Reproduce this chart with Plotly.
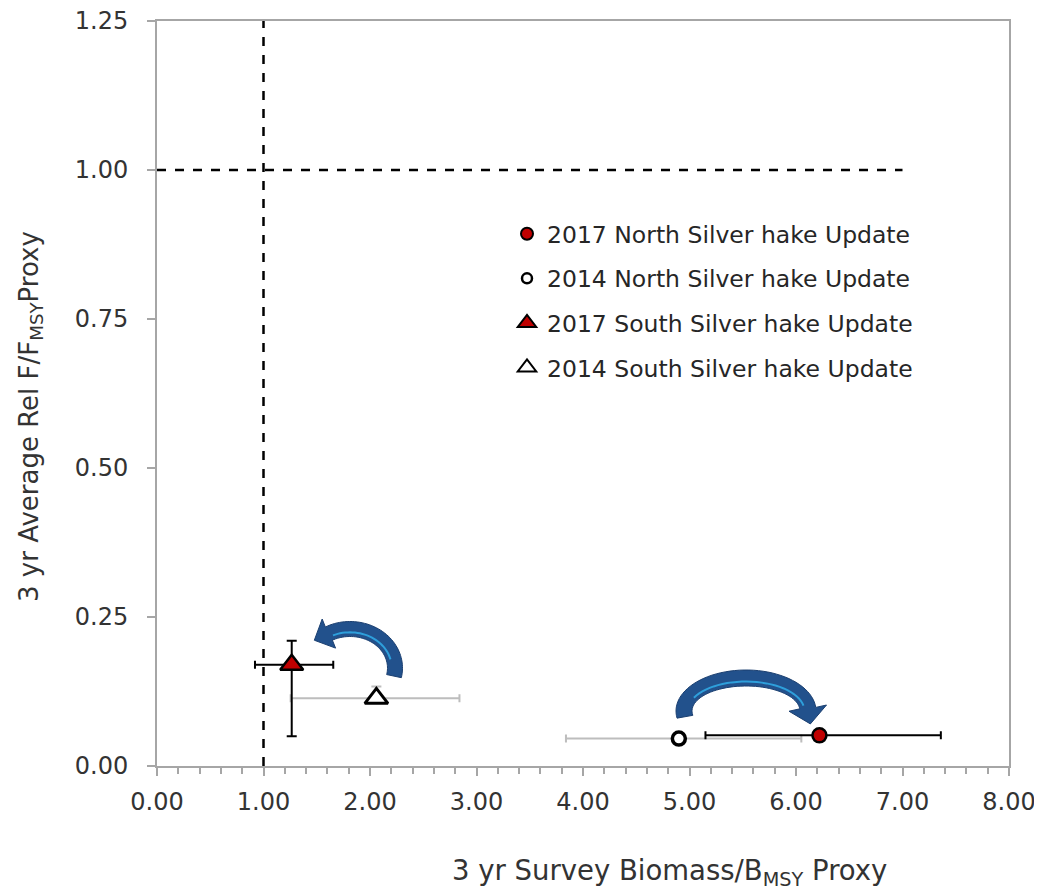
import numpy as np
import plotly.graph_objects as go

# ---------------- data ----------------
series_names = ["2017 North Silver hake Update", "2014 North Silver hake Update",
                "2017 South Silver hake Update", "2014 South Silver hake Update"]
biomass_ratio = [6.22, 4.90, 1.265, 2.06]          # x: 3 yr survey biomass / Bmsy proxy
f_ratio = [0.0515, 0.046, 0.17, 0.1135]            # y: 3 yr avg rel F / Fmsy proxy
x_err_plus = [1.14, 1.15, 0.39, 0.78]
x_err_minus = [1.07, 1.06, 0.345, 0.805]
y_err_plus = [0.0, 0.0, 0.04, 0.02]
y_err_minus = [0.0, 0.0, 0.12, 0.008]
x_ticks = [0, 1, 2, 3, 4, 5, 6, 7, 8]
y_ticks = [0, 0.25, 0.5, 0.75, 1.0, 1.25]
b_ref = 1.0
f_ref = 1.0

# ---------------- style ----------------
W, H = 1042, 890
# target plot-area position on screen
L, R, T, B = 157, 1009, 21, 766
# margins (corrected for the 8px page offset)
ML, MR, MT, MB = 149, 41, 13, 132
FONT = "DejaVu Sans"
TXT = "#333333"
RED = "#C00000"

symbols = ["circle", "circle", "triangle-up", "triangle-up"]
fills = [RED, "white", RED, "white"]
sizes = [14, 13, 20, 20]
lwidths = [2.5, 3.5, 2.5, 3]
err_colors = ["black", "#BDBDBD", "black", "#BDBDBD"]
leg_sizes = [12, 10, 16, 16]

fig = go.Figure()

order = [1, 3, 0, 2]
for i in order:
    fig.add_trace(go.Scatter(
        x=[biomass_ratio[i]], y=[f_ratio[i]], mode="markers", showlegend=False,
        marker=dict(symbol=symbols[i], size=sizes[i], color=fills[i],
                    line=dict(color="black", width=lwidths[i])),
        error_x=dict(type="data", symmetric=False, array=[x_err_plus[i]],
                     arrayminus=[x_err_minus[i]], color=err_colors[i],
                     thickness=2, width=4),
        error_y=dict(type="data", symmetric=False, array=[y_err_plus[i]],
                     arrayminus=[y_err_minus[i]], color=err_colors[i],
                     thickness=2, width=5, visible=(y_err_plus[i] + y_err_minus[i]) > 0),
    ))

for i, name in enumerate(series_names):
    fig.add_trace(go.Scatter(
        x=[None], y=[None], mode="markers", name=name, legendgroup=name,
        marker=dict(symbol=symbols[i], size=leg_sizes[i], color=fills[i],
                    line=dict(color="black", width=2 if i != 1 else 2.5)),
    ))

fig.add_shape(type="line", x0=b_ref, x1=b_ref, y0=0, y1=y_ticks[-1],
              line=dict(color="black", width=2.5, dash="dash"), layer="above")
fig.add_shape(type="line", x0=0, x1=7.0, y0=f_ref, y1=f_ref,
              line=dict(color="black", width=2.5, dash="dash"), layer="above")

# ---------------- curved arrows (decoration, px geometry relative to plot box) ----------------
def px2x(px):
    return (px - L) / (R - L) * (x_ticks[-1] - x_ticks[0]) + x_ticks[0]

def px2y(py):
    return (B - py) / (B - T) * (y_ticks[-1] - y_ticks[0]) + y_ticks[0]

def arc_arrow(cx, cy, rx, ry, t0, t1, thick, head_w, head_l, n=48):
    ts = np.radians(np.linspace(t0, t1, n))
    outer = [(cx + (rx + thick / 2) * np.cos(t), cy - (ry + thick / 2) * np.sin(t)) for t in ts]
    inner = [(cx + (rx - thick / 2) * np.cos(t), cy - (ry - thick / 2) * np.sin(t)) for t in ts]
    te = ts[-1]
    sgn = np.sign(t1 - t0)
    tx, ty = -rx * np.sin(te) * sgn, -ry * np.cos(te) * sgn
    nrm = np.hypot(tx, ty)
    tx, ty = tx / nrm, ty / nrm
    mx, my = cx + rx * np.cos(te), cy - ry * np.sin(te)
    nx, ny = ty, -tx
    if (mx + nx - cx) ** 2 / rx ** 2 + (my + ny - cy) ** 2 / ry ** 2 < 1:
        nx, ny = -nx, -ny
    base_out = (mx + nx * head_w / 2, my + ny * head_w / 2)
    base_in = (mx - nx * head_w / 2, my - ny * head_w / 2)
    tip = (mx + tx * head_l, my + ty * head_l)
    pts = outer + [base_out, tip, base_in] + inner[::-1]
    d = "M " + " L ".join(f"{px2x(p[0]):.4f},{px2y(p[1]):.4f}" for p in pts) + " Z"
    hs = np.radians(np.linspace(t0 + (t1 - t0) * 0.2, t1 - (t1 - t0) * 0.03, 30))
    hl = [(cx + (rx - thick * 0.22) * np.cos(t), cy - (ry - thick * 0.22) * np.sin(t)) for t in hs]
    d2 = "M " + " L ".join(f"{px2x(p[0]):.4f},{px2y(p[1]):.4f}" for p in hl)
    return d, d2

for spec in [dict(cx=746, cy=711, rx=62, ry=33, t0=190, t1=5, thick=16, head_w=38, head_l=16),
             dict(cx=350, cy=668, rx=45, ry=39, t0=-12, t1=118, thick=15, head_w=32, head_l=16)]:
    d, d2 = arc_arrow(**spec)
    fig.add_shape(type="path", path=d, fillcolor="#22518C",
                  line=dict(color="#1B3F70", width=1), layer="above")
    fig.add_shape(type="path", path=d2, fillcolor="rgba(0,0,0,0)",
                  line=dict(color="#2E9FDB", width=2), layer="above")

# axis titles as annotations (positioned as in the reference)
fig.add_annotation(text="3 yr Survey Biomass/B<sub>MSY</sub> Proxy", xref="paper", yref="paper",
                   x=(669 - L) / (R - L), y=-(872 - B) / (B - T), xanchor="center", yanchor="middle",
                   showarrow=False, font=dict(family=FONT, size=27.5, color=TXT))
fig.add_annotation(text="3 yr Average Rel F/F<sub>MSY</sub>Proxy", xref="paper", yref="paper",
                   x=(30 - L) / (R - L), y=(B - 417) / (B - T), xanchor="center", yanchor="middle",
                   textangle=-90, showarrow=False, font=dict(family=FONT, size=26, color=TXT))

axis_common = dict(showgrid=False, zeroline=False, showline=True, linecolor="#A6A6A6",
                   linewidth=2, mirror=True, ticks="outside", tickcolor="#A6A6A6",
                   tickwidth=1.5, tickformat=".2f", ticklabeloverflow="allow",
                   tickfont=dict(family=FONT, size=24, color=TXT))

fig.update_layout(
    width=W, height=H,
    margin=dict(l=ML, r=MR, t=MT, b=MB, autoexpand=False),
    paper_bgcolor="white", plot_bgcolor="white",
    xaxis=dict(range=[x_ticks[0], x_ticks[-1]], tickvals=x_ticks, ticklen=8,
               ticklabelstandoff=5,
               minor=dict(dtick=0.2, ticks="outside", ticklen=6, tickcolor="#A6A6A6", tickwidth=1.5),
               **axis_common),
    yaxis=dict(range=[y_ticks[0], y_ticks[-1]], tickvals=y_ticks, ticklen=8,
               ticklabelstandoff=14, **axis_common),
    legend=dict(x=(507 - L) / (R - L), y=(B - 212) / (B - T), xanchor="left", yanchor="top",
                bgcolor="rgba(0,0,0,0)", font=dict(family=FONT, size=23.5, color="#262626"),
                tracegroupgap=11, itemsizing="trace"),
    showlegend=True,
)

fig.write_html("out.html")
